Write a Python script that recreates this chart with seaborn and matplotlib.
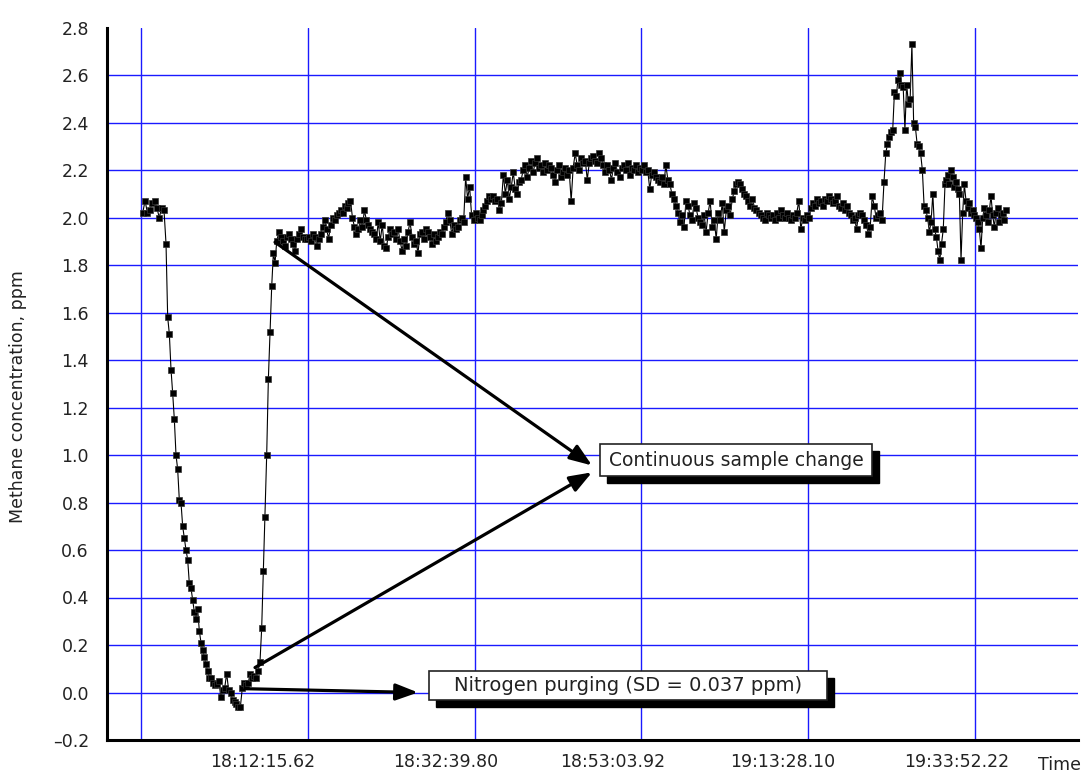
import numpy as np
import pandas as pd
import matplotlib
matplotlib.use("Agg")
import matplotlib.pyplot as plt
import seaborn as sns
from matplotlib.patches import Rectangle
from matplotlib.transforms import offset_copy
from matplotlib.ticker import FixedLocator, FuncFormatter

# ---------------- data ----------------
# each segment: first sample time, last sample time, readings (ppm) at uniform interval
baseline_start, baseline_end = "17:52:03.9", "17:54:40.3"
baseline = [2.02, 2.07, 2.02, 2.03, 2.06, 2.07, 2.04, 2.00, 2.04, 2.03]

purge_start, purge_end = "17:54:55.0", "18:00:12.7"
purge_descent = [1.89, 1.58, 1.51, 1.36, 1.26, 1.15, 1.00, 0.94, 0.81, 0.80,
                 0.70, 0.65, 0.60, 0.56, 0.46, 0.44, 0.39, 0.34, 0.31, 0.35,
                 0.26, 0.21, 0.18, 0.15, 0.12, 0.09, 0.06]

trough_start, trough_end = "18:00:25.2", "18:06:10.1"
nitrogen_trough = [0.06, 0.04, 0.03, 0.035, 0.05, -0.02, 0.01, 0.02, 0.08, 0.01,
                   0.00, -0.03, -0.04, -0.05, -0.06, -0.06, 0.02, 0.04, 0.03, 0.04,
                   0.08, 0.06, 0.07, 0.06, 0.09]

rise_start, rise_end = "18:06:24.8", "18:08:27.4"
sample_rise = [0.13, 0.27, 0.51, 0.74, 1.00, 1.32, 1.52, 1.71, 1.85, 1.81, 1.90]

ambient_a_start, ambient_a_end = "18:08:44.2", "18:41:45.8"
ambient_a = [1.94, 1.92, 1.90, 1.88, 1.92, 1.93, 1.91, 1.89, 1.86, 1.91, 1.93, 1.95, 1.92, 1.91,
             1.91, 1.92, 1.90, 1.93, 1.92, 1.88, 1.91, 1.93,
             1.96, 1.99, 1.95, 1.91, 1.97, 2.00, 1.99, 2.01, 2.02, 2.03, 2.02, 2.05, 2.04, 2.06, 2.07,
             2.00, 1.96, 1.93, 1.95, 1.99, 1.96, 2.03, 1.99, 1.97,
             1.95, 1.94, 1.93, 1.91, 1.98, 1.90, 1.97, 1.88, 1.87, 1.92, 1.95, 1.93, 1.94, 1.91, 1.95, 1.90, 1.86,
             1.91, 1.88, 1.94, 1.98, 1.92, 1.89, 1.90, 1.85, 1.93, 1.94, 1.91, 1.95,
             1.94, 1.92, 1.89, 1.93, 1.90, 1.92, 1.94, 1.93, 1.96, 1.98, 2.02, 1.99, 1.93, 1.97, 1.95,
             1.96, 1.99, 2.00, 1.98, 2.17, 2.08, 2.13,
             2.01, 1.99, 2.02, 2.00, 1.99, 2.01, 2.03, 2.05,
             2.07, 2.09, 2.08, 2.09, 2.07, 2.08, 2.03, 2.06,
             2.18, 2.10, 2.16, 2.08, 2.13, 2.19, 2.12, 2.10, 2.15, 2.16,
             2.20, 2.22, 2.17, 2.21, 2.24, 2.19, 2.23, 2.25, 2.21, 2.22, 2.19, 2.23, 2.20, 2.22]

ambient_b_start, ambient_b_end = "18:42:00.5", "19:16:00.7"
ambient_b = [2.21, 2.18, 2.15, 2.20, 2.22, 2.17, 2.19, 2.21, 2.18, 2.20,
             2.07, 2.21, 2.27,
             2.22, 2.20, 2.25, 2.23, 2.24, 2.16, 2.23, 2.25, 2.26, 2.24, 2.23, 2.27, 2.25, 2.22,
             2.19, 2.22, 2.20, 2.16, 2.21, 2.23, 2.19, 2.17, 2.21, 2.22, 2.20, 2.23, 2.18, 2.21, 2.20, 2.22, 2.19, 2.21, 2.20,
             2.22, 2.19, 2.20, 2.12, 2.18, 2.19, 2.17, 2.16, 2.15, 2.17, 2.14, 2.22, 2.16, 2.14,
             2.10, 2.08, 2.05, 2.02, 1.98, 2.01, 1.96,
             2.07, 2.05, 2.01, 1.99, 2.06, 2.04, 2.00, 1.98, 1.97, 2.01, 1.94, 2.02, 2.07, 1.96, 1.99, 1.91,
             2.02, 1.99, 2.06, 1.94, 2.03, 2.05, 2.01,
             2.08, 2.11, 2.14, 2.15, 2.14, 2.12, 2.10, 2.09, 2.07, 2.05, 2.08, 2.04, 2.03,
             2.02, 2.01, 2.00, 1.99, 2.02, 2.01, 2.00, 2.01, 1.99, 2.02, 2.00, 2.03, 2.01, 2.00, 2.02,
             2.00, 1.99, 2.01, 2.00, 2.02, 2.07, 1.95, 2.00, 1.99, 2.01, 2.00,
             2.04, 2.06, 2.05, 2.08, 2.06, 2.07, 2.05, 2.08, 2.07, 2.09]

ambient_c_start, ambient_c_end = "19:16:15.4", "19:22:29.7"
ambient_c = [2.08, 2.06, 2.07, 2.09, 2.05, 2.04, 2.06, 2.03, 2.05, 2.02,
             2.01, 1.99, 2.00, 1.95, 2.01, 2.02, 2.01, 1.99, 1.97, 1.93, 1.96,
             2.09, 2.05, 2.00, 2.01, 2.02, 1.99]

peak_start, peak_end = "19:22:44.3", "19:30:12.0"
peak = [2.15, 2.27, 2.31, 2.34, 2.36, 2.37, 2.53, 2.51, 2.58, 2.61, 2.56, 2.55, 2.37, 2.56, 2.48, 2.50, 2.73, 2.40,
        2.38, 2.31, 2.30, 2.27, 2.20, 2.05, 2.03, 2.00, 1.94, 1.98, 2.10, 1.95, 1.92, 1.86, 1.82, 1.89, 1.95, 2.14]

tail_start, tail_end = "19:30:19.4", "19:37:39.7"
tail = [2.16, 2.18, 2.14, 2.20, 2.17, 2.13, 2.15, 2.12, 2.10, 1.82, 2.02, 2.14,
        2.07, 2.04, 2.06, 2.02, 2.03, 2.01, 2.00,
        1.98, 1.95, 1.87, 2.00, 2.04, 2.01, 1.98, 2.03, 2.09, 2.01, 1.96, 2.02, 2.04, 1.98, 2.01, 2.02, 1.99, 2.03]

tick_labels = ["18:12:15.62", "18:32:39.80", "18:53:03.92", "19:13:28.10", "19:33:52.22"]
y_ticks = [-0.2, 0.0, 0.2, 0.4, 0.6, 0.8, 1.0, 1.2, 1.4, 1.6, 1.8, 2.0, 2.2, 2.4, 2.6, 2.8]


def hms(s):
    h, m, sec = s.split(":")
    return int(h) * 3600 + int(m) * 60 + float(sec)


segments = [
    (baseline_start, baseline_end, baseline),
    (purge_start, purge_end, purge_descent),
    (trough_start, trough_end, nitrogen_trough),
    (rise_start, rise_end, sample_rise),
    (ambient_a_start, ambient_a_end, ambient_a),
    (ambient_b_start, ambient_b_end, ambient_b),
    (ambient_c_start, ambient_c_end, ambient_c),
    (peak_start, peak_end, peak),
    (tail_start, tail_end, tail),
]
times = np.concatenate([np.linspace(hms(a), hms(b), len(v)) for a, b, v in segments])
values = np.concatenate([np.asarray(v, float) for _, _, v in segments])
df = pd.DataFrame({"time": times, "ppm": values})

# ---------------- figure ----------------
sns.set_style("white")
plt.rcParams["font.family"] = ["DejaVu Sans"]
fig = plt.figure(figsize=(10.85, 7.76), dpi=100)
ax = fig.add_axes([107 / 1085, 36 / 776, 971 / 1085, 712.5 / 776])

label_secs = [hms(l) for l in tick_labels]
step = label_secs[1] - label_secs[0]
majors = [label_secs[0] - step] + label_secs
minors = [m + step / 2 for m in majors]

ax.set_xlim(64061.9, 71188.0)
ax.set_ylim(-0.2, 2.8)

ax.xaxis.set_major_locator(FixedLocator(majors))
ax.xaxis.set_minor_locator(FixedLocator(minors))
ax.yaxis.set_major_locator(FixedLocator(y_ticks))
ax.yaxis.set_minor_locator(FixedLocator([round(v + 0.1, 1) for v in y_ticks[:-1]]))
ax.yaxis.set_major_formatter(FuncFormatter(lambda v, p: f"{v:.1f}".replace("-", "\u2013")))
ax.tick_params(axis="x", labelbottom=False)

ax.set_axisbelow(True)
ax.grid(True, which="major", color="#1a1aff", linewidth=1.0)
for sp in ("top", "right"):
    ax.spines[sp].set_visible(False)
for sp in ("left", "bottom"):
    ax.spines[sp].set_linewidth(2.2)
    ax.spines[sp].set_color("black")

ax.tick_params(axis="y", which="major", direction="in", length=11.5, width=2.0,
               pad=13, labelsize=12.5, colors="black")
ax.tick_params(axis="y", which="minor", direction="in", length=6.5, width=2.0)
ax.tick_params(axis="x", which="major", direction="in", length=10, width=2.0)
ax.tick_params(axis="x", which="minor", direction="in", length=5, width=2.0)
ax.tick_params(axis="y", labelcolor="#222222")

sns.lineplot(data=df, x="time", y="ppm", ax=ax, color="black", linewidth=0.8,
             marker="s", markersize=4.8, markeredgecolor="#333333", markeredgewidth=0.5,
             estimator=None, sort=False, zorder=3)
ax.set_xlabel("")
ax.set_ylabel("")

# hide grid line on the top edge
ax.yaxis.get_major_ticks()[-1].gridline.set_visible(False)

# x tick labels (placed with the original's irregular offsets)
label_dx = [-45.5, -29, -28.5, -26, -18]
for sec, lab, dx in zip(label_secs, tick_labels, label_dx):
    ax.annotate(lab, xy=(sec, 0), xycoords=("data", "axes fraction"),
                xytext=(dx * 0.72, -9.5), textcoords="offset points",
                ha="center", va="top", fontsize=12.5, color="#222222")

fig.text(1081 / 1085, 1 - 765 / 776, "Time", ha="right", va="center", fontsize=12.5, color="#222222")
fig.text(18 / 1085, 1 - 397 / 776, "Methane concentration, ppm", rotation=90,
         ha="center", va="center", fontsize=12.5, color="#222222")

# ---------------- annotations ----------------
arrow_kw = dict(arrowstyle="-|>,head_length=0.75,head_width=0.28", color="black",
                lw=2.3, shrinkA=0, shrinkB=0, mutation_scale=18)
ax.annotate("", xy=(67621.3, 0.956), xytext=(65294.9, 1.896), arrowprops=arrow_kw, zorder=6)
ax.annotate("", xy=(67621.3, 0.927), xytext=(65148.1, 0.105), arrowprops=arrow_kw, zorder=6)
ax.annotate("", xy=(66344.4, 0.0), xytext=(65074.7, 0.016), arrowprops=arrow_kw, zorder=6)

shadow_tr = offset_copy(ax.transData, fig=fig, x=7, y=-7, units="dots")


def note_box(t0, t1, v0, v1, text, size):
    ax.add_patch(Rectangle((t0, v0), t1 - t0, v1 - v0, transform=shadow_tr,
                           facecolor="black", edgecolor="black", zorder=7))
    ax.add_patch(Rectangle((t0, v0), t1 - t0, v1 - v0, facecolor="white",
                           edgecolor="#222222", linewidth=1.2, zorder=8))
    ax.text((t0 + t1) / 2, (v0 + v1) / 2, text, ha="center", va="center",
            fontsize=size, color="#222222", zorder=9)


note_box(67680.1, 69676.3, 0.9098, 1.0447, "Continuous sample change", 13.5)
note_box(66425.1, 69344.0, -0.0299, 0.0923, "Nitrogen purging (SD = 0.037 ppm)", 14)

fig.savefig("out.png", dpi=100)
